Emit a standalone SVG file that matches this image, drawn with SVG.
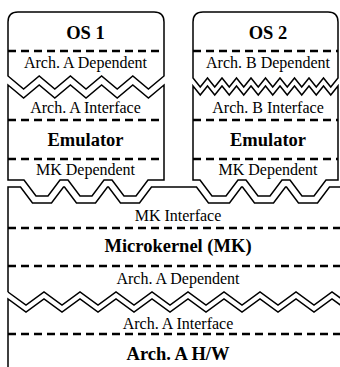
<svg xmlns="http://www.w3.org/2000/svg" width="340" height="367" viewBox="0 0 340 367">
<style>
.s{fill:#fff;stroke:#000;stroke-width:1.5;stroke-linejoin:miter}
.o{fill:none;stroke:#000;stroke-width:1.5}
.d{stroke:#000;stroke-width:2.4;stroke-dasharray:8 5}
.t{font-family:"Liberation Serif","Times New Roman",serif;font-size:16px;text-anchor:middle;fill:#000}
.b{font-family:"Liberation Serif","Times New Roman",serif;font-size:18.5px;font-weight:bold;text-anchor:middle;fill:#000}
</style>
<rect width="340" height="367" fill="#fff"/>
<g id="os1">
<path class="s" d="M8,76 V22 Q8,12 18,12 H154 Q164,12 164,22 V76 L148.4,89 L132.8,76 L117.2,89 L101.6,76 L86,89 L70.4,76 L54.8,89 L39.2,76 L23.6,89 Z"/>
<line class="d" x1="8" y1="51" x2="164" y2="51"/>
<text class="b" x="85.5" y="39">OS 1</text>
<text class="t" x="85.5" y="68">Arch. A Dependent</text>
</g>
<g id="emu1">
<path class="s" d="M8,85 L23.6,98 L39.2,85 L54.8,98 L70.4,85 L86,98 L101.6,85 L117.2,98 L132.8,85 L148.4,98 L164,85 V180 H148 L136,196 H124 L112,180 H104 L92,196 H80 L68,180 H60 L48,196 H36 L24,180 H8 Z"/>
<line class="d" x1="8" y1="120" x2="164" y2="120"/>
<line class="d" x1="8" y1="159" x2="164" y2="159"/>
<text class="t" x="85.5" y="113">Arch. A Interface</text>
<text class="b" x="85.5" y="146">Emulator</text>
<text class="t" x="85.5" y="175">MK Dependent</text>
</g>
<g id="os2">
<path class="s" d="M193,78 V22 Q193,12 203,12 H328 Q338,12 338,22 V78 L330.75,87 L323.5,78 L316.25,87 L309,78 L301.75,87 L294.5,78 L287.25,87 L280,78 L272.75,87 L265.5,78 L258.25,87 L251,78 L243.75,87 L236.5,78 L229.25,87 L222,78 L214.75,87 L207.5,78 L200.25,87 Z"/>
<line class="d" x1="193" y1="51" x2="338" y2="51"/>
<text class="b" x="268" y="39">OS 2</text>
<text class="t" x="268" y="68">Arch. B Dependent</text>
</g>
<g id="emu2">
<path class="s" d="M193,86 L200.25,95 L207.5,86 L214.75,95 L222,86 L229.25,95 L236.5,86 L243.75,95 L251,86 L258.25,95 L265.5,86 L272.75,95 L280,86 L287.25,95 L294.5,86 L301.75,95 L309,86 L316.25,95 L323.5,86 L330.75,95 L338,86 V180 H326 L314,196 H302 L290,180 H282 L270,196 H258 L246,180 H238 L226,196 H212 L200,180 H193 Z"/>
<line class="d" x1="193" y1="120" x2="338" y2="120"/>
<line class="d" x1="193" y1="159" x2="338" y2="159"/>
<text class="t" x="268" y="113">Arch. B Interface</text>
<text class="b" x="268" y="146">Emulator</text>
<text class="t" x="268" y="175">MK Dependent</text>
</g>
<g id="mk">
<path class="o" d="M8,292 V187 H20.5 L32.5,203 H51.5 L63.5,187 H64.5 L76.5,203 H95.5 L107.5,187 H108.5 L120.5,203 H139.5 L151.5,187 H196.5 L208.5,203 H229.5 L241.5,187 H242.5 L254.5,203 H273.5 L285.5,187 H286.5 L298.5,203 H317.5 L329.5,187 H341"/>
<path class="o" d="M8,292 L26,305 L44,292 L62,305 L80,292 L98,305 L116,292 L134,305 L152,292 L170,305 L188,292 L206,305 L224,292 L242,305 L260,292 L278,305 L296,292 L314,305 L332,292 L350,305"/>
<line class="d" x1="8" y1="228" x2="340" y2="228"/>
<line class="d" x1="8" y1="266" x2="340" y2="266"/>
<text class="t" x="178" y="221">MK Interface</text>
<text class="b" x="178" y="252">Microkernel (MK)</text>
<text class="t" x="178" y="284">Arch. A Dependent</text>
</g>
<g id="hw">
<path class="o" d="M8,367 V299 L26,312 L44,299 L62,312 L80,299 L98,312 L116,299 L134,312 L152,299 L170,312 L188,299 L206,312 L224,299 L242,312 L260,299 L278,312 L296,299 L314,312 L332,299 L350,312"/>
<line class="d" x1="8" y1="334" x2="340" y2="334"/>
<text class="t" x="178" y="329">Arch. A Interface</text>
<text class="b" x="178" y="360">Arch. A H/W</text>
</g>
<g id="connectors"/>
</svg>
